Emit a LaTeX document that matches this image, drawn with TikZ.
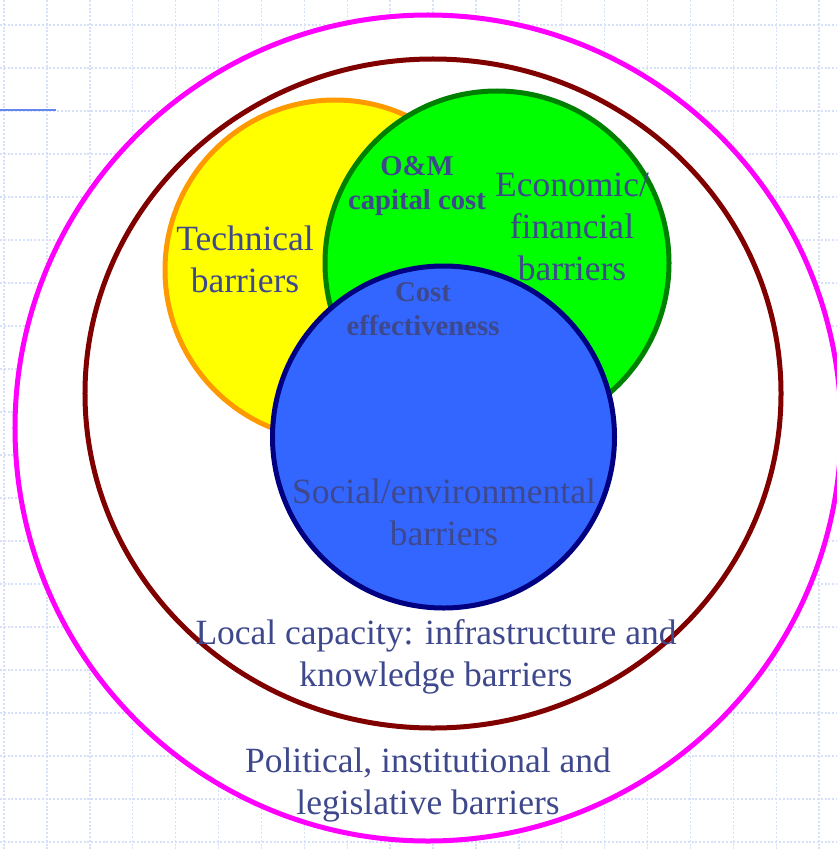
\documentclass[tikz,border=0pt]{standalone}
\usepackage{fontspec}
\setmainfont{Liberation Serif}
\definecolor{txtc}{RGB}{62,72,140}
\definecolor{gridc}{RGB}{214,224,250}
\definecolor{yfill}{RGB}{255,255,0}
\definecolor{ostroke}{RGB}{255,153,0}
\definecolor{gfill}{RGB}{0,255,0}
\definecolor{gstroke}{RGB}{0,128,0}
\definecolor{bfill}{RGB}{51,102,255}
\definecolor{bstroke}{RGB}{0,0,128}
\definecolor{dred}{RGB}{128,0,0}
\definecolor{mag}{RGB}{255,0,255}
\definecolor{bline}{RGB}{100,136,240}
\begin{document}
\begin{tikzpicture}[x=1bp,y=-1bp,
  lbl/.style={text=txtc, align=center, inner sep=0pt, font=\fontsize{35.5bp}{42bp}\selectfont},
  blbl/.style={text=txtc, align=center, inner sep=0pt, font=\bfseries\fontsize{28.7bp}{34bp}\selectfont},
  ring/.style={line width=5bp},
  gridl/.style={draw=gridc, line width=1.4bp, dash pattern=on 2bp off 1.8bp}]
\useasboundingbox (0,0) rectangle (837,850);
\clip (0,0) rectangle (837,850);
\fill[white] (0,0) rectangle (837,850);
\foreach \i in {0,...,19} \draw[gridl] ({4+42.9*\i},0) -- ({4+42.9*\i},850);
\foreach \j in {0,...,19} \draw[gridl] (0,{25+43*\j}) -- (837,{25+43*\j});
\draw[draw=bline, line width=1.5bp] (0,110) -- (56,110);
% rings
\draw[ring, draw=mag, fill=white] (428,428) circle[radius=413bp];
\draw[ring, draw=dred, fill=white] (433,393.5) ellipse[x radius=348bp, y radius=334.5bp];
% venn circles
\draw[ring, draw=ostroke, fill=yfill] (335,270) circle[radius=170bp];
\draw[ring, draw=gstroke, fill=gfill] (497,263) circle[radius=172bp];
\draw[ring, draw=bstroke, fill=bfill] (443.5,437) circle[radius=171bp];
% labels
\node[lbl] (tech) at (245,259.5) {Technical\\barriers};
\node[blbl] (om) at (417,186) {O\&M\\capital cost};
\node[lbl] (econ) at (572,227) {Economic/\\financial\\barriers};
\node[blbl] (cost) at (423,309) {Cost\\effectiveness};
\node[lbl] (soc) at (444,512) {Social/environmental\\barriers};
\node[lbl] (local) at (436,656.5) {Local capacity: infrastructure and\\knowledge barriers};
\node[lbl] (pol) at (428,785) {Political, institutional and\\legislative barriers};
\end{tikzpicture}
\end{document}
